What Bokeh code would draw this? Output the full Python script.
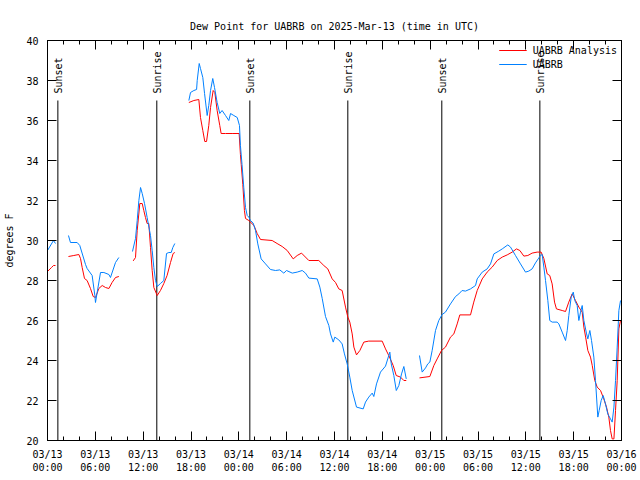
import math
from bokeh.plotting import figure
from bokeh.models import FixedTicker, LinearAxis, Range1d
from bokeh.core.properties import value
from bokeh.embed import file_html
from bokeh.resources import INLINE

nan = float("nan")

chart_title = "Dew Point for UABRB on 2025-Mar-13 (time in UTC)"
y_label = "degrees F"

# hours since 2025-03-13 00:00 UTC
analysis_hours = [
    0.0, 0.5, 0.75, 1.0, nan,
    2.63, 3.3, 3.93, 4.14, 4.35, 4.64, 4.97, 5.39, 5.73, 6.02, 6.44, 6.86, 7.28, 7.7, 8.1, 8.53, 8.95, nan,
    10.75, 11.04, 11.25, 11.58, 11.88, 12.08, 12.29, 12.5, 12.71, 12.92, 13.13, 13.34, 13.76, 14.17, 14.59,
    15.0, 15.43, 15.76, 15.97, nan,
    17.73, 18.36, 18.98, 19.19, 19.48, 19.73, 19.95, 20.23, 20.45, 20.78, 20.99, 21.28, 21.61, 21.78, 22.33,
    23.16, 24.04, 24.2, 24.3, 24.5, 24.7, 24.84, 25.25, 25.9, 26.3, 26.72, 28.18, 28.8, 29.44, 30.07, 30.82,
    31.32, 31.86, 32.78, 34.03, 34.66, 35.16, 35.71, 36.13, 36.54, 36.96, 37.38, 37.67, 37.92, 38.22, 38.43,
    38.76, 39.18, 39.68, 40.3, 41.98, 42.4, 42.81, 43.36, 43.74, 44.28, 44.7, 45.0, nan,
    46.66, 47.96, 48.46, 48.88, 49.42, 49.92, 50.55, 50.97, 51.39, 51.72, 53.06, 53.47, 53.9, 54.53, 55.15,
    55.78, 56.41, 57.04, 57.66, 58.29, 58.83, 59.25, 59.75, 60.25, 60.79, 61.42, 61.92, 62.26, 62.68, 63.0,
    63.3, 63.6, 63.84, 64.56, 64.98, 65.39, 65.81, 66.23, 66.65, 67.07, 67.28, 67.5, 67.78, 68.11, 68.33,
    68.65, 68.95, 69.37, 69.78, 70.12, 70.41, 70.62, 70.83, 71.05, 71.25, 71.46, 71.67, 71.88,
]
analysis_dewpt = [
    28.45, 28.65, 28.75, 28.75, nan,
    29.2, 29.25, 29.3, 29.1, 28.65, 28.1, 28.0, 27.6, 27.2, 27.15, 27.6, 27.75, 27.65, 27.6, 27.9, 28.15, 28.2, nan,
    28.98, 29.15, 30.5, 31.85, 31.85, 31.5, 31.15, 30.85, 30.85, 29.65, 28.5, 27.65, 27.25, 27.5, 27.85,
    28.25, 28.9, 29.35, 29.4, nan,
    36.9, 37.0, 37.05, 36.15, 35.5, 34.95, 34.95, 35.75, 36.65, 37.5, 37.4, 36.5, 35.75, 35.35, 35.35,
    35.35, 35.35, 34.3, 33.8, 32.8, 31.5, 31.1, 31.0, 30.75, 30.35, 30.05, 30.0, 29.85, 29.7, 29.5, 29.08,
    29.25, 29.37, 29.0, 29.0, 28.75, 28.58, 28.08, 27.9, 27.58, 27.5, 26.67, 26.17, 25.92, 25.33, 24.67,
    24.28, 24.5, 24.92, 24.97, 24.97, 24.58, 24.25, 23.75, 23.25, 23.17, 23.0, 23.0, nan,
    23.13, 23.2, 23.75, 24.08, 24.5, 24.67, 25.17, 25.33, 25.83, 26.28, 26.28, 26.92, 27.5, 28.08, 28.42,
    28.67, 29.0, 29.17, 29.28, 29.42, 29.58, 29.5, 29.22, 29.25, 29.37, 29.42, 29.42, 29.1, 28.33, 28.25,
    27.83, 26.92, 26.58, 26.5, 26.45, 26.92, 27.33, 27.0, 26.67, 26.42, 25.67, 25.17, 24.5, 24.17, 23.75,
    23.0, 22.67, 22.5, 22.08, 21.67, 21.17, 20.5, 20.08, 20.08, 21.5, 23.0, 25.58, 26.0,
]

obs_hours = [
    0.0, 0.75, 1.0, nan,
    2.63, 2.88, 3.72, 4.05, 4.77, 4.97, 5.6, 5.94, 6.02, 6.23, 6.65, 7.07, 7.7, 7.9, 8.53, 8.95, nan,
    10.66, 11.04, 11.25, 11.46, 11.67, 11.88, 12.17, 12.5, 12.92, 13.13, 13.34, 13.55, 13.76, 14.17, 14.59,
    14.93, 15.22, 15.52, 15.72, 15.97, nan,
    17.73, 17.94, 18.36, 18.7, 18.78, 19.03, 19.19, 19.48, 19.7, 20.03, 20.23, 20.45, 20.73, 20.95, 21.28,
    21.61, 21.9, 22.33, 22.74, 22.96, 23.37, 23.8, 24.08, 24.2, 24.4, 24.62, 24.84, 25.05, 25.25, 25.46,
    25.8, 26.09, 26.38, 26.8, 27.35, 27.97, 28.6, 29.14, 29.64, 29.98, 30.7, 31.32, 31.95, 32.36, 32.78,
    33.83, 34.16, 34.46, 34.87, 35.29, 35.5, 35.84, 36.04, 36.54, 36.96, 37.25, 37.59, 37.92, 38.22, 38.76,
    39.6, 39.89, 40.3, 40.73, 40.93, 41.27, 41.77, 42.4, 42.81, 42.94, 43.12, 43.44, 43.75, 44.07, 44.41,
    44.7, 45.0, nan,
    46.66, 47.0, 47.42, 47.7, 47.96, 48.25, 48.67, 49.08, 49.5, 49.92, 50.55, 51.18, 51.6, 52.0, 52.43,
    53.06, 53.69, 53.9, 54.53, 55.15, 55.57, 55.99, 56.61, 57.04, 57.74, 58.08, 58.7, 59.33, 59.96, 60.37,
    60.79, 61.21, 61.55, 61.84, 62.05, 62.26, 62.47, 62.76, 63.0, 63.3, 63.93, 64.14, 64.56, 64.98, 65.19,
    65.39, 65.69, 65.95, 66.14, 66.44, 66.65, 66.86, 67.07, 67.28, 67.62, 67.78, 68.03, 68.24, 68.53, 68.74,
    69.03, 69.2, 69.45, 69.7, 69.99, 70.28, 70.62, 70.83, 71.05, 71.25, 71.46, 71.67, 71.88,
]
obs_dewpt = [
    29.5, 30.0, 29.85, nan,
    30.25, 29.9, 29.9, 29.75, 28.8, 28.6, 28.25, 27.25, 26.9, 27.4, 28.4, 28.4, 28.3, 28.15, 28.9, 29.15, nan,
    29.45, 30.1, 31.0, 32.0, 32.65, 32.35, 31.85, 31.15, 30.25, 29.5, 28.65, 28.0, 27.7, 27.85, 28.0,
    29.35, 29.4, 29.4, 29.65, 29.85, nan,
    37.0, 37.4, 37.5, 37.55, 38.0, 38.85, 38.6, 38.15, 37.35, 36.25, 36.75, 37.5, 38.1, 37.65, 36.9,
    36.35, 36.5, 36.25, 36.0, 36.35, 36.25, 36.15, 35.75, 34.75, 33.8, 32.65, 31.65, 31.25, 31.17, 31.0,
    30.87, 30.5, 29.83, 29.08, 28.83, 28.55, 28.5, 28.53, 28.37, 28.5, 28.37, 28.42, 28.5, 28.37, 28.12,
    28.08, 27.67, 27.1, 26.2, 25.75, 25.33, 24.92, 25.17, 25.03, 24.83, 24.33, 23.83, 23.17, 22.5, 21.67,
    21.58, 21.92, 22.17, 22.37, 22.2, 22.83, 23.42, 23.72, 24.25, 24.42, 23.83, 23.25, 22.5, 22.75, 23.33,
    23.7, 23.08, nan,
    24.25, 23.42, 23.63, 23.83, 23.92, 24.5, 25.5, 26.0, 26.3, 26.42, 26.83, 27.2, 27.33, 27.5, 27.47,
    27.58, 27.75, 28.08, 28.42, 28.58, 28.83, 29.33, 29.47, 29.58, 29.78, 29.67, 29.25, 28.83, 28.42, 28.47,
    28.58, 28.88, 29.08, 29.25, 29.3, 28.67, 28.0, 27.0, 26.0, 25.92, 25.92, 25.83, 25.42, 25.0, 25.5,
    26.25, 27.17, 27.42, 27.0, 26.75, 26.0, 26.42, 26.75, 26.0, 25.33, 25.08, 25.5, 25.0, 24.17, 23.0,
    21.17, 21.5, 22.0, 22.25, 21.83, 21.33, 21.08, 20.92, 21.67, 23.0, 24.67, 26.5, 27.0,
]

series_names = ["UABRB Analysis", "UABRB"]
series_colors = ["#ff0000", "#0080ff"]

event_hours = [1.3, 13.71, 25.38, 37.67, 49.46, 61.76]
event_names = ["Sunset", "Sunrise", "Sunset", "Sunrise", "Sunset", "Sunrise"]
event_top = [37.0] * 6
event_bottom = [20.0] * 6

x_major = [0, 6, 12, 18, 24, 30, 36, 42, 48, 54, 60, 66, 72]
x_minor = list(range(0, 73, 2))
x_labels = ["03/13\n00:00", "03/13\n06:00", "03/13\n12:00", "03/13\n18:00",
            "03/14\n00:00", "03/14\n06:00", "03/14\n12:00", "03/14\n18:00",
            "03/15\n00:00", "03/15\n06:00", "03/15\n12:00", "03/15\n18:00",
            "03/16\n00:00"]
y_major = list(range(20, 41, 2))

FONT = "DejaVu Sans Mono"
FS = "10px"

p = figure(width=640, height=480, x_range=Range1d(0, 72), y_range=Range1d(20, 40),
           output_backend="svg", toolbar_location=None,
           min_border_left=47, min_border_right=19, min_border_top=40, min_border_bottom=40,
           x_axis_location=None, y_axis_location=None)
p.title.text = chart_title
p.title.align = "center"
p.title.text_font = FONT
p.title.text_font_size = FS
p.title.text_font_style = "normal"
p.title.text_color = "black"
p.title.standoff = 18
p.grid.visible = False
p.outline_line_color = "black"
p.outline_line_width = 1
p.background_fill_color = "white"
p.border_fill_color = "white"


def make_axis(ticker, labels_on):
    ax = LinearAxis(ticker=ticker)
    ax.major_tick_in = 9
    ax.major_tick_out = 0
    ax.minor_tick_in = 4
    ax.minor_tick_out = 0
    ax.axis_line_color = "black"
    ax.major_tick_line_color = "black"
    ax.minor_tick_line_color = "black"
    ax.major_label_text_font = FONT
    ax.major_label_text_font_size = FS
    ax.major_label_text_color = "black"
    if labels_on:
        ax.major_label_standoff = 9
    else:
        ax.major_label_standoff = 0
        ax.major_label_overrides = {t: "" for t in ticker.ticks}
    return ax


xt = FixedTicker(ticks=x_major, minor_ticks=x_minor)
yt = FixedTicker(ticks=y_major, minor_ticks=[])

xb = make_axis(xt, True)
xb.major_label_standoff = 8
xb.major_label_overrides = {t: lab for t, lab in zip(x_major, x_labels)}
p.add_layout(xb, "below")
xa = make_axis(xt, False)
xa.major_label_standoff = 5
p.add_layout(xa, "above")

yl = make_axis(yt, True)
yl.axis_label = y_label
yl.axis_label_text_font = FONT
yl.axis_label_text_font_size = FS
yl.axis_label_text_font_style = "normal"
yl.axis_label_text_color = "black"
yl.axis_label_standoff = 8
p.add_layout(yl, "left")
yr = make_axis(yt, False)
p.add_layout(yr, "right")

# sunrise / sunset markers
p.segment(x0=event_hours, y0=event_bottom, x1=event_hours, y1=event_top,
          line_color="black", line_width=1)
p.text(x=event_hours, y=event_top, text=event_names, angle=math.pi / 2,
       text_align="left", text_baseline="middle", x_offset=1, y_offset=-7,
       text_font=value(FONT), text_font_size=FS, text_color="black")

p.line(analysis_hours, analysis_dewpt, line_color=series_colors[0], line_width=1,
       legend_label=series_names[0])
p.line(obs_hours, obs_dewpt, line_color=series_colors[1], line_width=1,
       legend_label=series_names[1])

lg = p.legend[0]
lg.location = "top_right"
lg.label_text_font = FONT
lg.label_text_font_size = FS
lg.label_text_color = "black"
lg.glyph_width = 28
lg.glyph_height = 12
lg.label_height = 12
lg.label_standoff = 6
lg.spacing = 2
lg.padding = 2
lg.margin = 2
lg.background_fill_alpha = 0
lg.border_line_alpha = 0

open("out.html", "w").write(file_html(p, INLINE))
